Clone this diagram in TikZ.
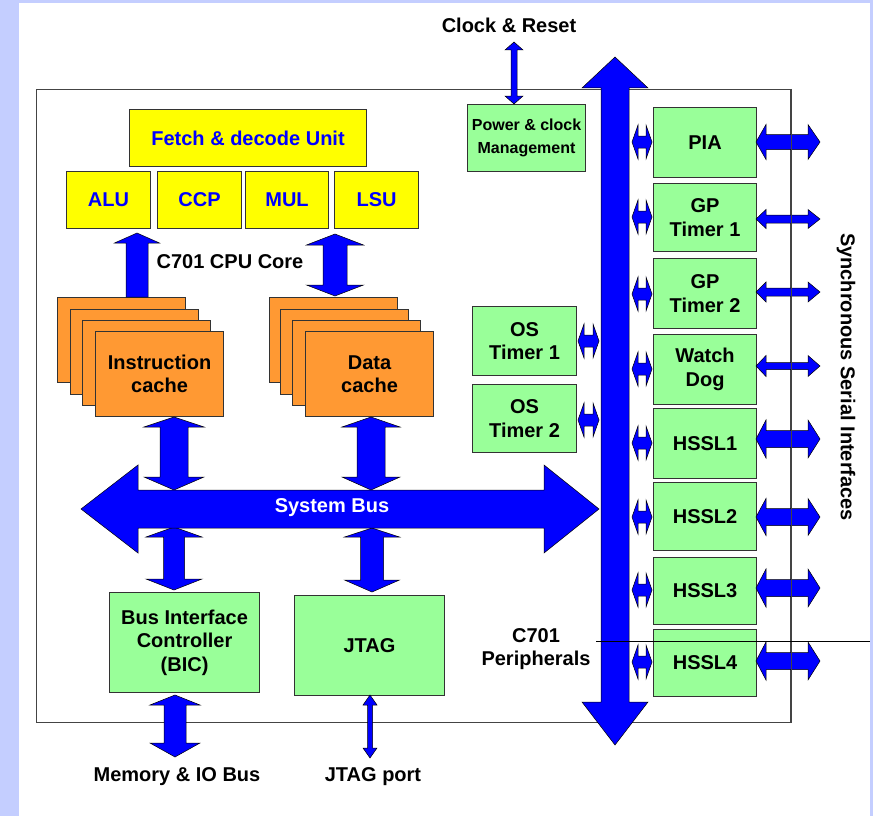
\documentclass[tikz,border=0pt]{standalone}
\usepackage{fontspec}
\setmainfont{Liberation Sans}
\usetikzlibrary{calc}
\definecolor{bg}{HTML}{C4CEFF}
\definecolor{busblue}{HTML}{0000FF}
\definecolor{yel}{HTML}{FFFF00}
\definecolor{grn}{HTML}{99FF99}
\definecolor{org}{HTML}{FF9933}
\definecolor{edge}{HTML}{333333}
\definecolor{chipedge}{HTML}{444444}
% double vertical block arrow: top coord, bottom coord, shaft half, head half, top head len, bottom head len
\newcommand\vdarrow[6]{%
\filldraw[blk] let \p1=(#1), \p2=(#2) in
 (\x1,\y1) -- (\x1+#4*1pt,\y1-#5*1pt) -- (\x1+#3*1pt,\y1-#5*1pt) -- (\x1+#3*1pt,\y2+#6*1pt) -- (\x1+#4*1pt,\y2+#6*1pt)
 -- (\x1,\y2) -- (\x1-#4*1pt,\y2+#6*1pt) -- (\x1-#3*1pt,\y2+#6*1pt) -- (\x1-#3*1pt,\y1-#5*1pt) -- (\x1-#4*1pt,\y1-#5*1pt) -- cycle;}
% single up block arrow: tip coord, tail coord, shaft half, head half, head len
\newcommand\vuarrow[5]{%
\filldraw[blk] let \p1=(#1), \p2=(#2) in
 (\x1,\y1) -- (\x1+#4*1pt,\y1-#5*1pt) -- (\x1+#3*1pt,\y1-#5*1pt) -- (\x1+#3*1pt,\y2) -- (\x1-#3*1pt,\y2)
 -- (\x1-#3*1pt,\y1-#5*1pt) -- (\x1-#4*1pt,\y1-#5*1pt) -- cycle;}
% double horizontal block arrow: left coord, right coord, shaft half, head half, left head len, right head len
\newcommand\hdarrow[6]{%
\filldraw[blk] let \p1=(#1), \p2=(#2) in
 (\x1,\y1) -- (\x1+#5*1pt,\y1+#4*1pt) -- (\x1+#5*1pt,\y1+#3*1pt) -- (\x2-#6*1pt,\y1+#3*1pt) -- (\x2-#6*1pt,\y1+#4*1pt)
 -- (\x2,\y1) -- (\x2-#6*1pt,\y1-#4*1pt) -- (\x2-#6*1pt,\y1-#3*1pt) -- (\x1+#5*1pt,\y1-#3*1pt) -- (\x1+#5*1pt,\y1-#4*1pt) -- cycle;}
\begin{document}
\begin{tikzpicture}[x=1pt,y=-1pt,
  blk/.style={fill=busblue,draw=black,line width=0.5pt,line join=miter},
  bx/.style={draw=edge,line width=1.1pt,inner sep=0pt,anchor=north west,align=center,
    font=\bfseries\fontsize{20}{23.5}\selectfont},
  ybox/.style={bx,fill=yel,text=busblue,minimum height=57pt},
  gbox/.style={bx,fill=grn},
  pbox/.style={gbox,minimum width=103pt},
  obox/.style={bx,fill=org,minimum width=128pt,minimum height=85pt},
  txt/.style={align=center,inner sep=0pt,font=\bfseries\fontsize{20}{23.5}\selectfont}]
\useasboundingbox (0,0) rectangle (873,816);
\fill[bg] (0,0) rectangle (873,816);
\fill[white] (19,3) rectangle (870,816);

% chip outline
\node[draw=chipedge,line width=1.3pt,inner sep=0pt,anchor=north west,minimum width=754pt,minimum height=633pt] (chip) at (36,89) {};

% CPU core
\node[ybox,minimum width=237pt] (fetch) at (129,109) {Fetch \& decode Unit};
\node[ybox,minimum width=84pt] (alu) at (66,171) {ALU};
\node[ybox,minimum width=84pt] (ccp) at (157,171) {CCP};
\node[ybox,minimum width=83pt] (mul) at (245,171) {MUL};
\node[ybox,minimum width=84pt] (lsu) at (334,171) {LSU};

% caches
\node[obox] (ic1) at (57,297) {};
\node[obox] (ic2) at (69.5,308.5) {};
\node[obox] (ic3) at (82,320) {};
\node[obox] (ic4) at (95,331) {Instruction\\cache};
\node[obox] (dc1) at (268.5,297) {};
\node[obox] (dc2) at (279.5,308.5) {};
\node[obox] (dc3) at (292,320) {};
\node[obox] (dc4) at (305,331) {Data\\cache};

% power & clock
\node[gbox,minimum width=118pt,minimum height=67pt,font=\bfseries\fontsize{16}{23}\selectfont] (pcm) at (467,104) {Power \& clock\\Management};

% OS timers
\node[gbox,minimum width=104pt,minimum height=69pt] (os1) at (472,306) {OS\\Timer 1};
\node[gbox,minimum width=104pt,minimum height=68pt] (os2) at (472,384) {OS\\Timer 2};

% peripherals
\node[pbox,minimum height=70pt] (pia) at (653,107) {PIA};
\node[pbox,minimum height=68pt] (gp1) at (653,183) {GP\\Timer 1};
\node[pbox,minimum height=70pt] (gp2) at (653,258) {GP\\Timer 2};
\node[pbox,minimum height=70pt] (wd) at (653,334) {Watch\\Dog};
\node[pbox,minimum height=70pt] (h1) at (653,408) {HSSL1};
\node[pbox,minimum height=68pt] (h2) at (653,482) {HSSL2};
\node[pbox,minimum height=67pt] (h3) at (653,557) {HSSL3};
\node[pbox,minimum height=67pt] (h4) at (653,629) {HSSL4};

% BIC, JTAG
\node[gbox,minimum width=150pt,minimum height=100pt] (bic) at (109,592) {Bus Interface\\Controller\\(BIC)};
\node[gbox,minimum width=150pt,minimum height=100pt] (jtag) at (294,595) {JTAG};

% arrow end coordinates
\coordinate (cr-t) at (514,42);   \coordinate (cr-b) at (514,104);
\coordinate (bus-t) at (615,57);  \coordinate (bus-b) at (615,745);
\coordinate (alu-t) at (137,233); \coordinate (alu-b) at (137,297);
\coordinate (lsu-t) at (335,234); \coordinate (lsu-b) at (335,296);
\coordinate (ic-t) at (174,417);  \coordinate (ic-b) at (174,490);
\coordinate (dc-t) at (371,417);  \coordinate (dc-b) at (371,490);
\coordinate (bic-t) at (174,527); \coordinate (bic-b) at (174,590);
\coordinate (jt-t) at (372,528);  \coordinate (jt-b) at (372,592);
\coordinate (mem-t) at (175,695); \coordinate (mem-b) at (175,757);
\coordinate (jp-t) at (370,695);  \coordinate (jp-b) at (370,758);
\coordinate (sb-l) at (81,509);   \coordinate (sb-r) at (599,509);

% block arrows
\vdarrow{cr-t}{cr-b}{3}{9}{8}{8}
\vuarrow{alu-t}{alu-b}{11}{22.5}{10}
\vdarrow{lsu-t}{lsu-b}{12}{28.5}{11}{11}
\vdarrow{ic-t}{ic-b}{14}{30}{10}{13}
\vdarrow{dc-t}{dc-b}{14}{29}{10}{13}
\vdarrow{bic-t}{bic-b}{10.5}{28}{10}{11}
\vdarrow{jt-t}{jt-b}{11.5}{27.5}{9}{12}
\vdarrow{mem-t}{mem-b}{11}{25}{10}{14}
\vdarrow{jp-t}{jp-b}{2.5}{7}{10}{10}
\hdarrow{sb-l}{sb-r}{19}{44}{57}{55}
\vdarrow{bus-t}{bus-b}{14}{33}{31}{43}

% small bus connectors
\foreach \nm/\yc in {pia/142,gp1/217,gp2/294,wd/369,h1/443,h2/517,h3/590,h4/662}{
  \coordinate (\nm-ca) at (632,\yc); \coordinate (\nm-cb) at (652,\yc);
  \hdarrow{\nm-ca}{\nm-cb}{6}{17}{6}{6}
}
\foreach \nm/\yc in {os1/341,os2/420}{
  \coordinate (\nm-ca) at (578,\yc); \coordinate (\nm-cb) at (599,\yc);
  \hdarrow{\nm-ca}{\nm-cb}{6}{17}{6}{6}
}
% external serial arrows
\foreach \nm/\yc/\sa/\ha in {pia/142/7.5/17.5,gp1/219/4/9.5,gp2/292/4/10,wd/366/3.5/10.5,h1/439/8.5/19,h2/517/8.5/18.5,h3/588/8.5/19,h4/661/8.5/19}{
  \coordinate (\nm-ea) at (756,\yc); \coordinate (\nm-eb) at (820,\yc);
  \hdarrow{\nm-ea}{\nm-eb}{\sa}{\ha}{10}{12}
}

% chip right edge over the arrows
\draw[chipedge,line width=1.3pt] (chip.north east) -- (chip.south east);
% stray horizontal line
\coordinate (hl-a) at (596,641); \coordinate (hl-b) at (870,641);
\draw[black,line width=0.9pt] (hl-a) -- (hl-b);

% labels
\node[txt] (core) at (230,262) {C701 CPU Core};
\node[txt] (clk) at (509,25) {Clock \& Reset};
\node[txt,text=white] (sysbus) at (332,508) {System Bus};
\node[txt] (periph) at (536,649) {C701\\Peripherals};
\node[txt] (memlbl) at (177,777) {Memory \& IO Bus};
\node[txt] (jplbl) at (373,777) {JTAG port};
\node[txt,rotate=-90] (ssi) at (846,377) {Synchronous Serial Interfaces};
\end{tikzpicture}
\end{document}
